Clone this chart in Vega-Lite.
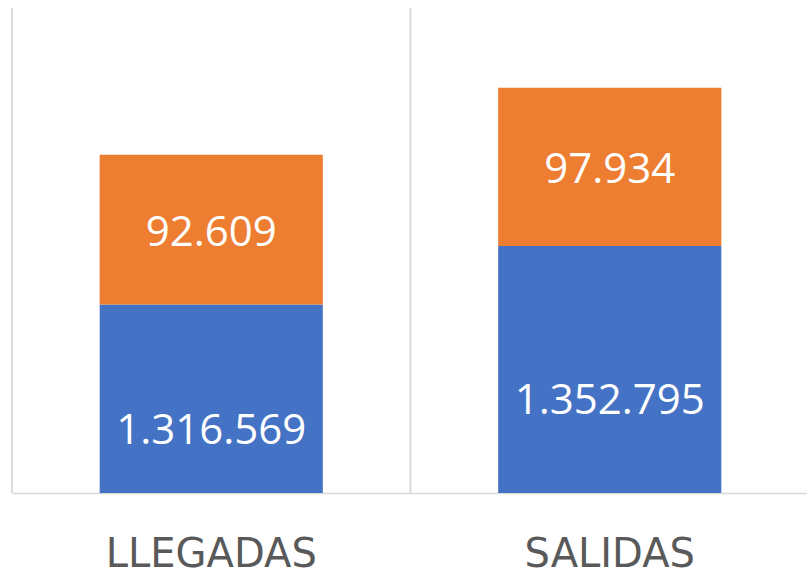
{
  "$schema": "https://vega.github.io/schema/vega-lite/v6.json",
  "width": 797,
  "height": 485,
  "autosize": {"type": "none"},
  "padding": {"left": 12, "top": 8, "right": 0, "bottom": 82},
  "background": "white",
  "config": {
    "view": {"stroke": null},
    "locale": {"number": {"decimal": ",", "thousands": ".", "grouping": [3], "currency": ["", " €"]}}
  },
  "data": {
    "values": [
      {"tipo": "LLEGADAS", "serie": "Serie 1", "valor": 1316569},
      {"tipo": "LLEGADAS", "serie": "Serie 2", "valor": 92609},
      {"tipo": "SALIDAS", "serie": "Serie 1", "valor": 1352795},
      {"tipo": "SALIDAS", "serie": "Serie 2", "valor": 97934}
    ]
  },
  "transform": [
    {"stack": "valor", "groupby": ["tipo"], "sort": [{"field": "serie", "order": "ascending"}], "as": ["v0", "v1"]},
    {"calculate": "(max(datum.v0, 1200000) + datum.v1) / 2", "as": "mid"}
  ],
  "encoding": {
    "x": {
      "field": "tipo",
      "type": "nominal",
      "sort": ["LLEGADAS", "SALIDAS"],
      "scale": {"paddingInner": 0, "paddingOuter": 0},
      "axis": {
        "title": null,
        "labelAngle": 0,
        "labelFont": "DejaVu Sans",
        "labelFontSize": 40,
        "labelColor": "#595959",
        "labelBaseline": "alphabetic",
        "labelPadding": 73,
        "labelLimit": 0,
        "ticks": false,
        "grid": false,
        "domainColor": "#D9D9D9",
        "domainWidth": 1.5
      }
    }
  },
  "layer": [
    {
      "mark": {"type": "rule", "color": "#D9D9D9", "strokeWidth": 1.5},
      "encoding": {
        "x": {"field": "tipo", "type": "nominal", "bandPosition": 0, "sort": ["LLEGADAS", "SALIDAS"]}
      }
    },
    {
      "mark": {"type": "bar", "clip": true, "width": {"band": 0.56}},
      "encoding": {
        "y": {"field": "v0", "type": "quantitative", "scale": {"domain": [1200000, 1500000], "zero": false, "nice": false}, "axis": null},
        "y2": {"field": "v1"},
        "color": {"field": "serie", "type": "nominal", "scale": {"domain": ["Serie 1", "Serie 2"], "range": ["#4472C4", "#ED7D31"]}, "legend": null}
      }
    },
    {
      "transform": [{"filter": "datum.serie == 'Serie 1'"}],
      "mark": {"type": "text", "dy": 32, "font": "Open Sans", "fontSize": 42, "color": "white", "baseline": "middle", "align": "center"},
      "encoding": {
        "y": {"field": "mid", "type": "quantitative"},
        "text": {"field": "valor", "type": "quantitative", "format": ",d"}
      }
    },
    {
      "transform": [{"filter": "datum.serie == 'Serie 2'"}],
      "mark": {"type": "text", "dy": 3, "font": "Open Sans", "fontSize": 42, "color": "white", "baseline": "middle", "align": "center"},
      "encoding": {
        "y": {"field": "mid", "type": "quantitative"},
        "text": {"field": "valor", "type": "quantitative", "format": ",d"}
      }
    }
  ]
}
